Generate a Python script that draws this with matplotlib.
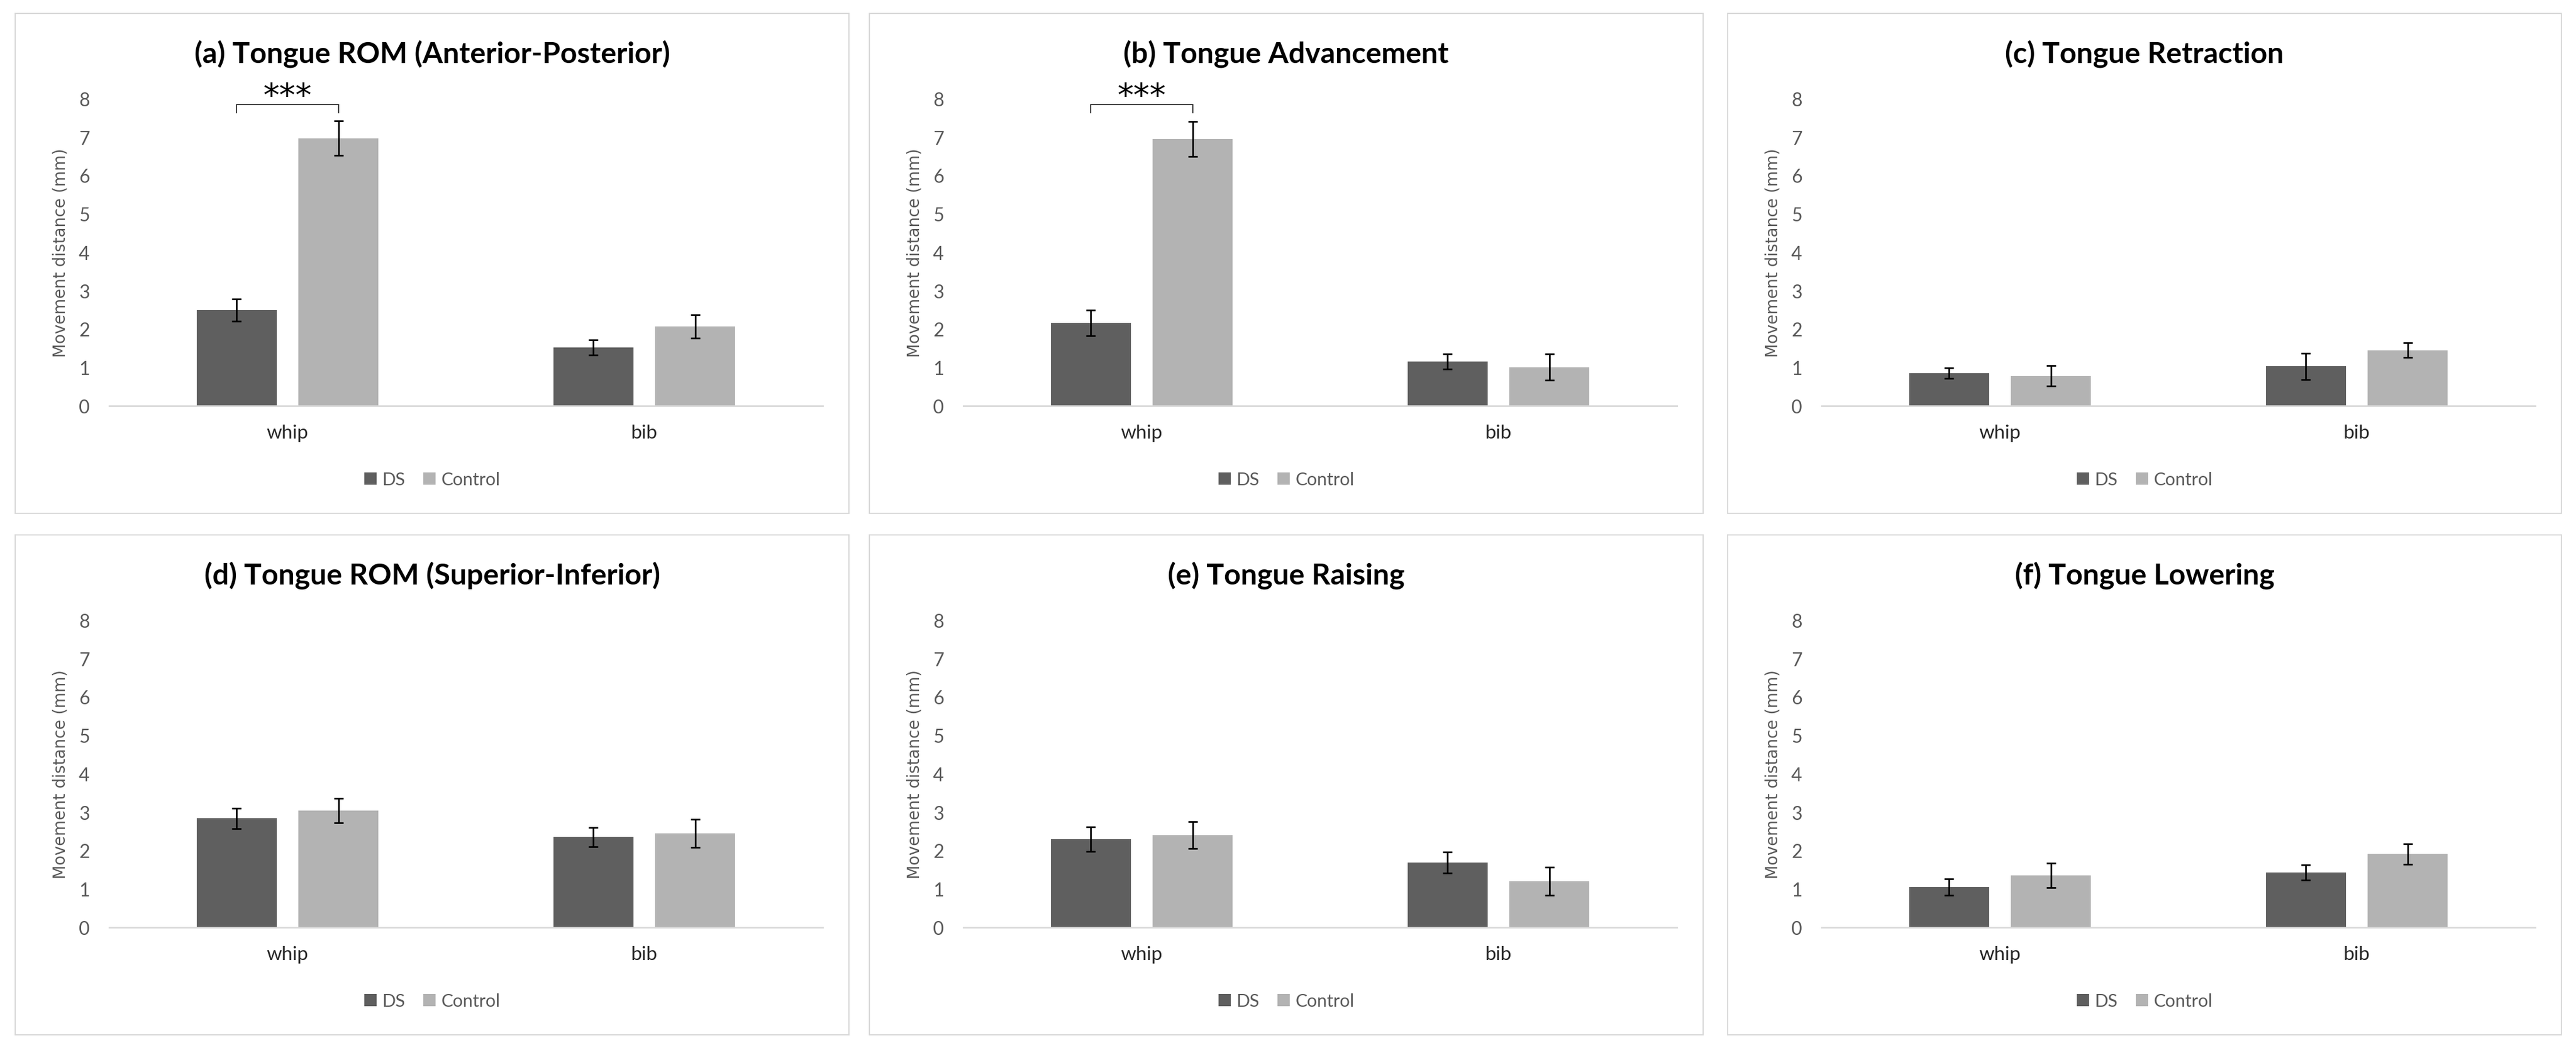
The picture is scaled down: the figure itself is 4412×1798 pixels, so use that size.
import matplotlib
matplotlib.use("Agg")
import matplotlib.pyplot as plt
from matplotlib.patches import Rectangle
import numpy as np

# Valeurs (mm)
categories = ["whip", "bib"]
series = ["DS", "Control"]
titres = ["(a) Tongue ROM (Anterior-Posterior)", "(b) Tongue Advancement",
          "(c) Tongue Retraction", "(d) Tongue ROM (Superior-Inferior)",
          "(e) Tongue Raising", "(f) Tongue Lowering"]

ds_moy = [[2.50, 1.52], [2.16, 1.16], [0.85, 1.03],
          [2.84, 2.35], [2.30, 1.69], [1.05, 1.43]]
ds_err = [[0.29, 0.20], [0.33, 0.20], [0.14, 0.34],
          [0.27, 0.245], [0.32, 0.27], [0.21, 0.20]]
ctrl_moy = [[6.97, 2.07], [6.95, 1.01], [0.78, 1.45],
            [3.04, 2.45], [2.41, 1.20], [1.36, 1.91]]
ctrl_err = [[0.45, 0.30], [0.46, 0.34], [0.27, 0.19],
            [0.32, 0.36], [0.35, 0.36], [0.32, 0.26]]
signif = ["***", "***", "", "", "", ""]

couleur_ds = "#5f5f5f"
couleur_ctrl = "#b3b3b3"
gris_texte = "#595959"

W, H = 4412, 1799
fig = plt.figure(figsize=(W / 100, H / 100), dpi=100)

# Position des cadres (en pixels)
gauches = [26, 1489, 2959]
hauts = [24, 917]
larg_cadre, haut_cadre = 1428, 856

x = np.arange(len(categories))
largeur = 0.223
decalage = 0.1425

for i in range(6):
    gx = gauches[i % 3]
    hy = hauts[i // 3]

    # Cadre gris clair autour de chaque graphique
    fig.add_artist(Rectangle((gx / W, 1 - (hy + haut_cadre) / H),
                             larg_cadre / W, haut_cadre / H,
                             transform=fig.transFigure, fill=False,
                             edgecolor="#d9d9d9", linewidth=1.5))

    ax_g = gx + 161
    ax_h = hy + 146
    ax_b = hy + 672
    ax = fig.add_axes([ax_g / W, 1 - ax_b / H, 1222 / W, (ax_b - ax_h) / H])

    ax.bar(x - decalage, ds_moy[i], largeur, color=couleur_ds, label=series[0],
           yerr=ds_err[i], error_kw=dict(ecolor="black", elinewidth=2,
                                         capsize=6, capthick=2))
    ax.bar(x + decalage, ctrl_moy[i], largeur, color=couleur_ctrl, label=series[1],
           yerr=ctrl_err[i], error_kw=dict(ecolor="black", elinewidth=2,
                                           capsize=6, capthick=2))

    ax.set_xlim(-0.5, 1.5)
    ax.set_ylim(0, 8)
    ax.set_yticks(range(9))
    ax.set_xticks(x)
    ax.set_xticklabels(categories, fontsize=24, family="Lato", color="#262626")
    ax.tick_params(axis="x", length=0, pad=22)
    ax.tick_params(axis="y", length=0, pad=24, labelsize=23, labelcolor=gris_texte)
    for lab in ax.get_yticklabels():
        lab.set_family("Lato")
    for cote in ["top", "right", "left"]:
        ax.spines[cote].set_visible(False)
    ax.spines["bottom"].set_color("#d9d9d9")
    ax.spines["bottom"].set_linewidth(2)

    ax.text(-0.068, 0.5, "Movement distance (mm)", transform=ax.transAxes,
            rotation=90, ha="center", va="center", fontsize=20,
            color=gris_texte, family="DejaVu Sans")

    fig.text((gx + larg_cadre / 2) / W, 1 - (hy + 68) / H, titres[i],
             ha="center", va="center", fontsize=36, fontweight="bold",
             family="Lato", color="black")

    if signif[i]:
        x1, x2 = x[0] - decalage, x[0] + decalage
        ax.plot([x1, x1, x2, x2], [7.64, 7.85, 7.85, 7.64], color="#404040",
                linewidth=1.5, clip_on=False)
        ax.text(x[0], 8.05, signif[i], ha="center", va="center", fontsize=40,
                color="black", clip_on=False)

    # Légende centrée sur le cadre, pas sur les axes
    centre = (larg_cadre / 2 - 161) / 1222
    leg = ax.legend(loc="center", bbox_to_anchor=(centre, -126 / 526), ncol=2,
                    frameon=False, handlelength=0.7,
                    handleheight=0.7, handletextpad=0.3, columnspacing=1.0,
                    prop={"family": "Lato", "size": 22})
    for t in leg.get_texts():
        t.set_color(gris_texte)

fig.savefig("out.png", dpi=100)
